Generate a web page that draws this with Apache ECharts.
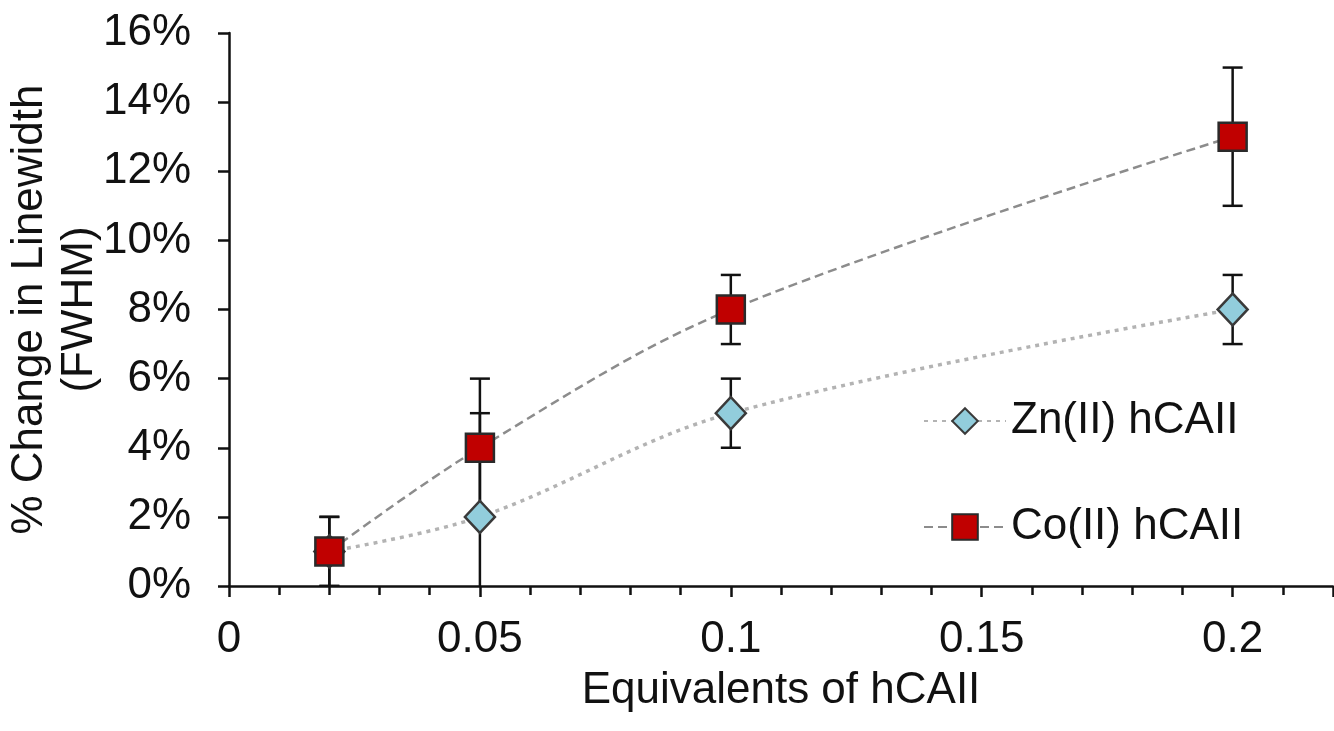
<!DOCTYPE html>
<html>
<head>
<meta charset="utf-8">
<script src="https://cdn.jsdelivr.net/npm/echarts@6/dist/echarts.min.js"></script>
<style>
  html, body { margin: 0; padding: 0; background: #fff; }
  #main { width: 1334px; height: 731px; }
</style>
</head>
<body>
<div id="main"></div>
<script>
// equivalents of hCAII (x values)
var equivalents = [0.02, 0.05, 0.1, 0.2];
// % change in linewidth
var znValues = [1, 2, 5, 8];
var znErrors = [1, 3, 1, 1];
var coValues = [1, 4, 8, 13];
var coErrors = [1, 2, 1, 2];
var seriesNames = ['Zn(II) hCAII', 'Co(II) hCAII'];

var chart = echarts.init(document.getElementById('main'));
var font = 'Liberation Sans, Arial, sans-serif';

function pairs(vals) {
  return equivalents.map(function (x, i) { return [x, vals[i]]; });
}
function errData(vals, errs) {
  return equivalents.map(function (x, i) { return [x, vals[i] - errs[i], vals[i] + errs[i]]; });
}

// error bars drawn as custom series
function renderErr(params, api) {
  var x = api.value(0);
  var lo = api.coord([x, api.value(1)]);
  var hi = api.coord([x, api.value(2)]);
  var half = 10;
  var st = { stroke: '#111', lineWidth: 2.5 };
  return {
    type: 'group',
    children: [
      { type: 'line', shape: { x1: hi[0], y1: hi[1], x2: lo[0], y2: lo[1] }, style: st },
      { type: 'line', shape: { x1: hi[0] - half, y1: hi[1], x2: hi[0] + half, y2: hi[1] }, style: st },
      { type: 'line', shape: { x1: lo[0] - half, y1: lo[1], x2: lo[0] + half, y2: lo[1] }, style: st }
    ]
  };
}

var option = {
  animation: false,
  backgroundColor: '#fff',
  grid: { left: 229, right: 1, top: 33, bottom: 145, outerBoundsMode: 'none', containLabel: false },
  legend: {
    orient: 'vertical',
    left: 918,
    top: 394,
    itemWidth: 82,
    itemHeight: 32,
    itemGap: 62,
    textStyle: { fontFamily: font, fontSize: 44, color: '#111' },
    data: seriesNames
  },
  xAxis: {
    type: 'value',
    min: 0,
    max: 0.22,
    interval: 0.05,
    name: 'Equivalents of hCAII',
    nameLocation: 'middle',
    nameGap: 83,
    nameMoveOverlap: false,
    nameTextStyle: { fontFamily: font, fontSize: 44, color: '#111' },
    axisLine: { lineStyle: { color: '#111', width: 2.5 } },
    axisTick: { show: true, inside: false, length: 11, lineStyle: { color: '#111', width: 2.5 } },
    minorTick: { show: true, splitNumber: 5, length: 9, lineStyle: { color: '#111', width: 2.5 } },
    splitLine: { show: false },
    axisLabel: {
      fontFamily: font, fontSize: 44, color: '#111', margin: 32,
      showMaxLabel: false,
      formatter: function (v) { return String(+v.toFixed(2)); }
    }
  },
  yAxis: {
    type: 'value',
    min: 0,
    max: 16,
    interval: 2,
    name: '% Change in Linewidth\n(FWHM)',
    nameLocation: 'middle',
    nameRotate: 90,
    nameGap: 124,
    nameMoveOverlap: false,
    nameTextStyle: { fontFamily: font, fontSize: 44, color: '#111', lineHeight: 50 },
    axisLine: { show: true, lineStyle: { color: '#111', width: 2.5 } },
    axisTick: { show: true, length: 11, lineStyle: { color: '#111', width: 2.5 } },
    splitLine: { show: false },
    axisLabel: {
      fontFamily: font, fontSize: 44, color: '#111', margin: 38,
      formatter: '{value}%'
    }
  },
  series: [
    {
      type: 'custom',
      renderItem: renderErr,
      data: errData(znValues, znErrors),
      clip: true,
      z: 1,
      silent: true
    },
    {
      type: 'custom',
      renderItem: renderErr,
      data: errData(coValues, coErrors),
      clip: true,
      z: 1,
      silent: true
    },
    {
      name: seriesNames[0],
      type: 'line',
      smooth: 0.35,
      data: pairs(znValues),
      symbol: 'diamond',
      symbolSize: [30, 32],
      z: 3,
      lineStyle: { color: '#b3b3b3', width: 3.5, type: [4, 5] },
      itemStyle: { color: '#92cddc', borderColor: '#3a3a3a', borderWidth: 2.5 }
    },
    {
      name: seriesNames[1],
      type: 'line',
      smooth: 0.35,
      data: pairs(coValues),
      symbol: 'rect',
      symbolSize: 28,
      z: 4,
      lineStyle: { color: '#8c8c8c', width: 2.5, type: [9, 5] },
      itemStyle: { color: '#c00000', borderColor: '#2a2a2a', borderWidth: 2.5 }
    }
  ]
};

chart.setOption(option);
</script>
</body>
</html>
